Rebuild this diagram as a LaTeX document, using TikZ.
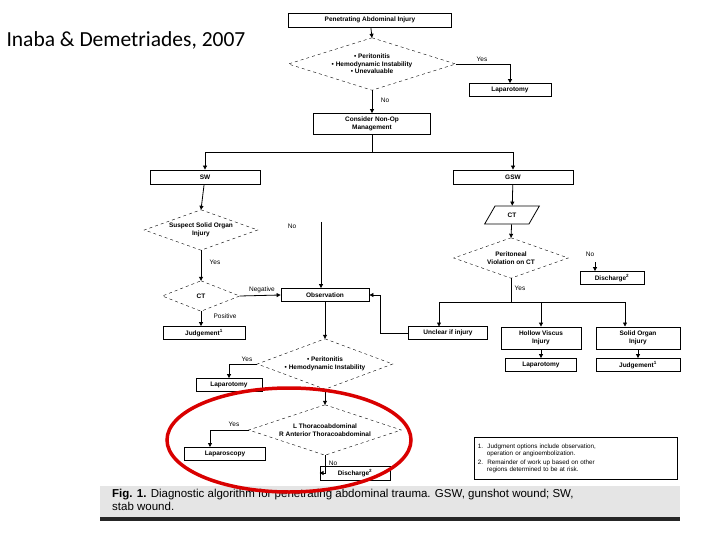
\documentclass[tikz,border=0pt]{standalone}
\usepackage{fontspec}
\setmainfont{Liberation Sans}
\newfontfamily\titlefont{Carlito}
\usetikzlibrary{shapes.geometric,shapes.symbols,arrows.meta}
\begin{document}
\begin{tikzpicture}[x=1pt,y=-1pt,
  font=\fontsize{6.5}{7.5}\selectfont\bfseries,
  box/.style={draw,thick,inner sep=0pt,align=center},
  dia/.style={inner sep=0pt,align=center},
  dd/.style={dashed,thin},
  lab/.style={font=\fontsize{6.5}{7.5}\selectfont},
  arr/.style={thick,-{Triangle[length=4pt,width=4pt]}},
  ln/.style={thick}]
\useasboundingbox (0,0) rectangle (720,540);
\newcommand{\dmd}[1]{\draw[dd] (#1.north) -- (#1.east) -- (#1.south) -- (#1.west) -- cycle;}
\node[anchor=west,font=\titlefont\fontsize{21.5}{24}\selectfont] (title) at (3,40) {Inaba \& Demetriades, 2007};
% top
\node[box,minimum width=163,minimum height=14] (pai) at (370,20) {Penetrating Abdominal Injury};
\node[dia,minimum width=167,minimum height=52] (d1) at (372,64) {• Peritonitis\\• Hemodynamic Instability\\• Unevaluable};
\dmd{d1}
\node[box,minimum width=82,minimum height=13] (lap1) at (510,90) {Laparotomy};
\node[box,minimum width=117,minimum height=21] (cnm) at (372,124) {Consider Non-Op\\Management};
\node[box,minimum width=110,minimum height=14] (sw) at (205,177) {SW};
\node[box,minimum width=120,minimum height=14] (gsw) at (513,177) {GSW};
\draw[arr] (pai) -- (d1.north);
\draw[arr] (d1.east) -| (lap1.north);
\node[lab] at (482,59) {Yes};
\draw[arr] (d1.south) -- (cnm.north);
\node[lab] at (385,100) {No};
\coordinate (j1) at (372,152);
\draw[ln] (cnm.south) -- (j1);
\draw[arr] (j1) -| (sw.north);
\draw[arr] (j1) -| (gsw.north);
% GSW branch
\node[trapezium,trapezium left angle=60,trapezium right angle=120,draw,thick,minimum width=55,minimum height=18,inner sep=0pt] (ct2) at (512,215) {CT};
\node[dia,minimum width=114,minimum height=40] (pv) at (511,258) {Peritoneal\\Violation on CT};
\dmd{pv}
\node[box,minimum width=64,minimum height=13] (dis1) at (612,278) {Discharge$^{\mathbf 2}$};
\draw[arr] (gsw) -- (ct2);
\draw[arr] (ct2) -- (pv.north);
\node[lab] at (590,254) {No};
\coordinate (dtop) at (595,262);
\draw[arr] (dtop) -- (dis1.north -| dtop);
\node[lab] at (520,288) {Yes};
\node[box,minimum width=79,minimum height=13] (unc) at (448,333) {Unclear if injury};
\node[box,minimum width=80,minimum height=22] (hvi) at (541,338) {Hollow Viscus\\Injury};
\node[box,minimum width=84,minimum height=22] (soi) at (638,338) {Solid Organ\\Injury};
\node[box,minimum width=71,minimum height=13] (lap2) at (541,365) {Laparotomy};
\node[box,minimum width=84,minimum height=13] (jud2) at (638,365) {Judgement$^{\mathbf 1}$};
\coordinate (j2) at (511,302);
\draw[ln] (pv.south) -- (j2);
\draw[arr] (j2) -| (439,326.5);
\draw[arr] (j2) -| (hvi.north);
\draw[arr] (j2) -| (625,326.5);
\draw[arr] (hvi) -- (lap2);
\draw[arr] (soi) -- (jud2);
% SW branch
\node[dia,minimum width=113,minimum height=40] (sso) at (201,230) {Suspect Solid Organ\\Injury};
\dmd{sso}
\node[dia,minimum width=77,minimum height=30] (ct1) at (201,296) {CT};
\dmd{ct1}
\node[box,minimum width=82,minimum height=13] (jud1) at (204,333) {Judgement$^{\mathbf 1}$};
\node[box,minimum width=88,minimum height=13] (obs) at (325,295) {Observation};
\draw[arr] (sw) -- (sso.north);
\draw[arr] (sso.south) -- (ct1.north);
\node[lab] at (215,262) {Yes};
\draw[arr] (ct1.east) -- (obs.west);
\node[lab] at (262,290) {Negative};
\draw[arr] (ct1.south) -- (jud1.north -| ct1.south);
\node[lab] at (225,316) {Positive};
\node[lab] at (292,226) {No};
\coordinate (ntop) at (321,222);
\draw[arr] (ntop) -- (obs.north -| ntop);
\draw[arr] (unc.west) -| (380,295) -- (obs.east);
\node[dia,minimum width=135,minimum height=50] (d2) at (325,364) {• Peritonitis\\• Hemodynamic Instability};
\dmd{d2}
\node[box,minimum width=66,minimum height=13] (lap3) at (229,385) {Laparotomy};
\draw[arr] (obs) -- (d2.north);
\draw[arr] (d2.west) -| (lap3.north);
\node[lab] at (247,359) {Yes};
\node[dia,minimum width=152,minimum height=50] (d3) at (325,430) {L Thoracoabdominal\\R Anterior Thoracoabdominal};
\dmd{d3}
\node[box,minimum width=81,minimum height=13] (lsc) at (225,454) {Laparoscopy};
\node[box,minimum width=70,minimum height=14] (dis2) at (355,473) {Discharge$^{\mathbf 2}$};
\draw[arr] (d2.south) -- (d3.north);
\draw[arr] (d3.west) -| (210,447);
\node[lab] at (234,424) {Yes};
\draw[arr] (d3.south) |- (dis2.west);
\node[lab] at (333,463) {No};
% notes
\node[box,draw,minimum width=203,minimum height=42,anchor=north west,align=left,font=\fontsize{6.3}{7.3}\selectfont,text width=196] (notes) at (474,437) {%
1.\ \ Judgment options include observation,\\\hspace*{9pt}operation or angioembolization.\\[2pt]
2.\ \ Remainder of work up based on other\\\hspace*{9pt}regions determined to be at risk.};
% caption
\fill[gray!20] (100,486) rectangle (680,517);
\fill[black!85] (100,517) rectangle (680,521);
\node[anchor=north west,align=left,font=\fontsize{11.5}{12.5}\selectfont,inner sep=0pt] (cap) at (112,489) {\textbf{Fig. 1.} Diagnostic algorithm for penetrating abdominal trauma. GSW, gunshot wound; SW,\\stab wound.};
% red ellipse
\draw[red!85!black,line width=3.5pt] (289,440) ellipse[x radius=122,y radius=52];
\end{tikzpicture}
\end{document}
